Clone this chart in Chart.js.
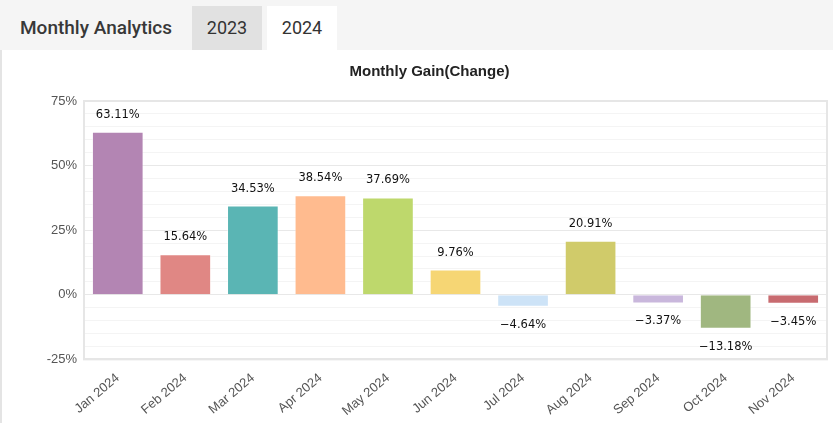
<!DOCTYPE html>
<html>
<head>
<meta charset="utf-8">
<script src="https://cdn.jsdelivr.net/npm/chart.js@4"></script>
<style>
    html, body { margin: 0; padding: 0; }
    body { width: 833px; height: 423px; background: #f5f5f5; overflow: hidden; font-family: Roboto, sans-serif; }
    .header { position: relative; height: 50px; }
    .header .title { position: absolute; left: 20px; top: 16px; font-size: 19px; font-weight: 500; color: #383838; }
    .tab { position: absolute; top: 6px; width: 70px; height: 44px; line-height: 44px; text-align: center; font-size: 18px; color: #333; }
    .tab.y2023 { left: 192px; background: #e1e1e1; }
    .tab.y2024 { left: 267px; background: #fff; }
    .panel { position: absolute; left: 0; top: 50px; width: 831px; height: 373px; background: #fff; border-left: 2px solid #e4e4e4; }
    #gainChart { display: block; }
</style>
</head>
<body>
<div class="header">
    <div class="title">Monthly Analytics</div>
    <div class="tab y2023">2023</div>
    <div class="tab y2024">2024</div>
</div>
<div class="panel">
    <canvas id="gainChart" width="831" height="373"></canvas>
</div>
<script>
var months = ['Jan 2024', 'Feb 2024', 'Mar 2024', 'Apr 2024', 'May 2024', 'Jun 2024',
    'Jul 2024', 'Aug 2024', 'Sep 2024', 'Oct 2024', 'Nov 2024'];
var gains = [63.11, 15.64, 34.53, 38.54, 37.69, 9.76, -4.64, 20.91, -3.37, -13.18, -3.45];
var barColors = ['#b385b3', '#e08784', '#5ab5b4', '#ffbb8f', '#bed86c', '#f6d674',
    '#cde3f7', '#d0cb6a', '#c9b7dc', '#a0b780', '#c86b70'];
var yTickLabels = [-25, 0, 25, 50, 75];

// plot frame + value labels
var gainLabels = {
    id: 'gainLabels',
    beforeDatasetsDraw: function (chart) {
        var a = chart.chartArea;
        var ctx = chart.ctx;
        ctx.save();
        ctx.strokeStyle = '#e6e6e6';
        ctx.lineWidth = 2;
        ctx.strokeRect(a.left, a.top, a.right - a.left, a.bottom - a.top);
        ctx.restore();
    },
    afterDatasetsDraw: function (chart) {
        var ctx = chart.ctx;
        var meta = chart.getDatasetMeta(0);
        ctx.save();
        ctx.font = '11.5px "DejaVu Sans"';
        ctx.fillStyle = '#111';
        ctx.textAlign = 'center';
        ctx.textBaseline = 'middle';
        meta.data.forEach(function (bar, i) {
            var v = gains[i];
            var txt = (v < 0 ? '\u2212' : '') + Math.abs(v).toFixed(2) + '%';
            var y = v >= 0 ? bar.y - 17 : bar.y + 18;
            ctx.fillText(txt, bar.x, y);
        });
        ctx.restore();
    }
};

new Chart(document.getElementById('gainChart'), {
    type: 'bar',
    data: {
        labels: months,
        datasets: [{
            data: gains,
            backgroundColor: barColors,
            borderColor: 'rgba(255,255,255,0.45)',
            borderWidth: 1,
            categoryPercentage: 0.85,
            barPercentage: 0.9
        }]
    },
    options: {
        responsive: false,
        animation: false,
        layout: { padding: { left: 30, right: 6, top: 8, bottom: 1 } },
        plugins: {
            legend: { display: false },
            tooltip: { enabled: false },
            title: {
                display: true,
                text: 'Monthly Gain(Change)',
                color: '#222',
                font: { family: 'Liberation Sans', size: 15, weight: 'bold' },
                padding: { top: 5, bottom: 20 }
            }
        },
        scales: {
            x: {
                grid: { display: false },
                border: { color: '#e6e6e6', width: 2 },
                ticks: {
                    color: '#555',
                    font: { family: 'Liberation Sans', size: 13 },
                    minRotation: 40,
                    maxRotation: 40,
                    padding: 3
                }
            },
            y: {
                min: -25,
                max: 75,
                afterFit: function (scale) { scale.width = 52; },
                border: { color: '#e6e6e6', width: 2 },
                grid: {
                    drawTicks: false,
                    color: function (c) {
                        return yTickLabels.indexOf(c.tick.value) >= 0 ? '#e8e8e8' : '#f4f4f4';
                    }
                },
                ticks: {
                    stepSize: 5,
                    autoSkip: false,
                    padding: 7,
                    color: '#555',
                    font: { family: 'Liberation Sans', size: 13 },
                    callback: function (v) {
                        return yTickLabels.indexOf(v) >= 0 ? v + '%' : '';
                    }
                }
            }
        }
    },
    plugins: [gainLabels]
});
</script>
</body>
</html>
